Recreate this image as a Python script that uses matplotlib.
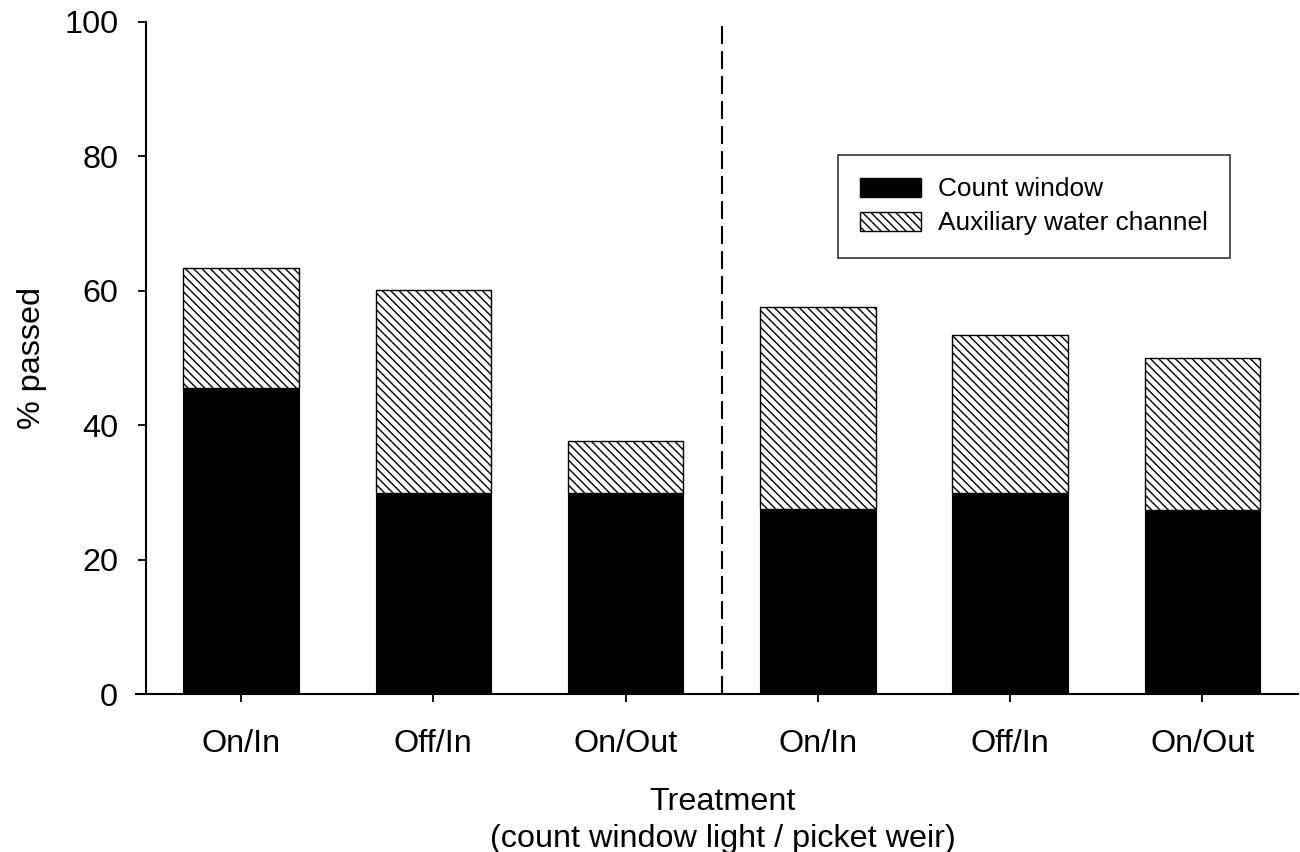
import matplotlib
matplotlib.use("Agg")
import matplotlib.pyplot as plt
from matplotlib.patches import Patch

plt.rcParams['font.family'] = ['Liberation Sans', 'DejaVu Sans']
plt.rcParams['hatch.linewidth'] = 1.0

categories = ["On/In", "Off/In", "On/Out", "On/In", "Off/In", "On/Out"]
count_window = [45.5, 29.9, 29.9, 27.5, 29.9, 27.4]
totals = [63.4, 60.1, 37.6, 57.6, 53.4, 50.0]
auxiliary = [t - c for t, c in zip(totals, count_window)]

FS = 23.3

fig = plt.figure(figsize=(13, 8.52), dpi=100)
ax = fig.add_axes([0.1046, 0.1854, 0.8939, 0.7888])

x = list(range(len(categories)))
ax.bar(x, count_window, width=0.6, color='black', edgecolor='black', linewidth=0.8)
ax.bar(x, auxiliary, width=0.6, bottom=count_window, color='white',
       edgecolor='black', hatch='\\\\\\\\', linewidth=1.0)

ax.axvline(2.5, color='black', linewidth=1.5, dashes=(8.6, 3.4))

ax.set_xlim(-0.546, 5.497)
ax.set_ylim(0, 100)
ax.spines['top'].set_visible(False)
ax.spines['right'].set_visible(False)
ax.spines['left'].set_position(('data', -0.494))
ax.spines['left'].set_linewidth(1.5)
ax.spines['bottom'].set_linewidth(1.5)

ax.set_xticks(x)
ax.set_xticklabels(categories)
ax.set_yticks([0, 20, 40, 60, 80, 100])
ax.tick_params(axis='both', direction='out', length=6, width=1.3, labelsize=FS)
ax.tick_params(axis='x', pad=19)
ax.tick_params(axis='y', pad=14)

ax.set_ylabel('% passed', fontsize=FS)
ax.yaxis.set_label_coords(-0.077, 0.5)
ax.set_xlabel('Treatment\n(count window light / picket weir)', fontsize=FS,
              linespacing=1.32, va='top')
ax.xaxis.set_label_coords(0.5047, -0.138)

handles = [Patch(facecolor='black', edgecolor='black', label='Count window'),
           Patch(facecolor='white', edgecolor='black', hatch='\\\\\\\\', label='Auxiliary water channel')]
leg = ax.legend(handles=handles, loc='upper left', bbox_to_anchor=(0.604, 0.802),
                fontsize=18.9, frameon=True, fancybox=False, edgecolor='black',
                handlelength=2.3, handleheight=0.72, borderpad=0.85, labelspacing=0.38,
                handletextpad=0.65, borderaxespad=0)
leg.get_frame().set_linewidth(1.2)

fig.savefig('out.png', dpi=100)
